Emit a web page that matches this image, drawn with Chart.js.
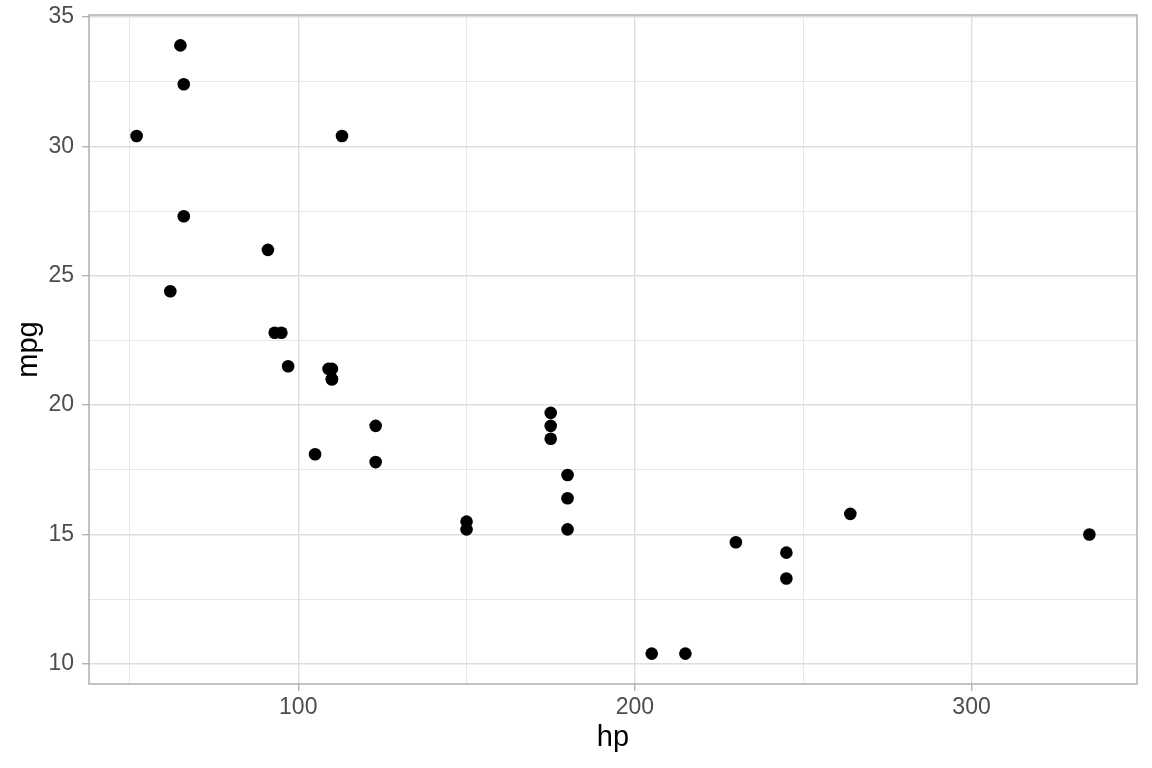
<!DOCTYPE html>
<html>
<head>
<meta charset="utf-8">
<script src="https://cdn.jsdelivr.net/npm/chart.js@4/dist/chart.umd.min.js"></script>
<style>
  html, body { margin: 0; padding: 0; background: #fff; }
  #wrap { width: 1152px; height: 768px; }
</style>
</head>
<body>
<div id="wrap"><canvas id="chart" width="1152" height="768"></canvas></div>
<script>
// mtcars: horsepower vs miles per gallon
const hp  = [110, 110, 93, 110, 175, 105, 245, 62, 95, 123, 123, 180, 180, 180, 205, 215,
             230, 66, 52, 65, 97, 150, 150, 245, 175, 66, 91, 113, 264, 175, 335, 109];
const mpg = [21.0, 21.0, 22.8, 21.4, 18.7, 18.1, 14.3, 24.4, 22.8, 19.2, 17.8, 16.4, 17.3, 15.2, 10.4, 10.4,
             14.7, 32.4, 30.4, 33.9, 21.5, 15.5, 15.2, 13.3, 19.2, 27.3, 26.0, 30.4, 15.8, 19.7, 15.0, 21.4];

const xMajor = [100, 200, 300];
const xMinor = [50, 150, 250];
const yMajor = [10, 15, 20, 25, 30, 35];
const yMinor = [12.5, 17.5, 22.5, 27.5, 32.5];

// ggplot-style 5% expansion of the data range
function expand(vals) {
  const lo = Math.min(...vals), hi = Math.max(...vals);
  const pad = (hi - lo) * 0.05;
  return [lo - pad, hi + pad];
}
const [xMin, xMax] = expand(hp);
const [yMin, yMax] = expand(mpg);

const points = hp.map((h, i) => ({ x: h, y: mpg[i] }));

const isMajor = (list) => (ctx) => ctx.tick && list.includes(ctx.tick.value);

// panel border drawn over everything, like theme_light
const panelBorder = {
  id: 'panelBorder',
  afterDraw(chart) {
    const { ctx, chartArea: a } = chart;
    ctx.save();
    ctx.strokeStyle = '#b3b3b3';
    ctx.lineWidth = 1.6;
    ctx.strokeRect(a.left, a.top, a.right - a.left, a.bottom - a.top);
    ctx.restore();
  }
};

new Chart(document.getElementById('chart'), {
  type: 'scatter',
  data: {
    datasets: [{
      data: points,
      backgroundColor: '#000000',
      borderWidth: 0,
      pointRadius: 6.3,
      pointHoverRadius: 6.3
    }]
  },
  options: {
    responsive: false,
    animation: false,
    devicePixelRatio: 1,
    events: [],
    layout: { padding: { top: 15, right: 15, left: 0, bottom: 0 } },
    plugins: { legend: { display: false }, tooltip: { enabled: false } },
    scales: {
      x: {
        type: 'linear',
        min: xMin,
        max: xMax,
        afterBuildTicks: (s) => { s.ticks = [...xMinor, ...xMajor].sort((a, b) => a - b).map(v => ({ value: v })); },
        afterFit: (s) => { s.height = 84; s.paddingLeft = 0; s.paddingRight = 0; },
        border: { display: false },
        grid: {
          color: '#dedede',
          lineWidth: (c) => isMajor(xMajor)(c) ? 1.4 : 0.7,
          tickLength: 7,
          tickColor: (c) => isMajor(xMajor)(c) ? '#b3b3b3' : 'rgba(0,0,0,0)',
          tickWidth: 1.4
        },
        ticks: {
          autoSkip: false,
          maxRotation: 0,
          padding: 3,
          color: '#4d4d4d',
          font: { family: 'Liberation Sans, Arial, sans-serif', size: 23 },
          callback: (v) => xMajor.includes(v) ? String(v) : ''
        },
        title: {
          display: true,
          text: 'hp',
          color: '#000000',
          font: { family: 'Liberation Sans, Arial, sans-serif', size: 29 },
          padding: { top: 0, bottom: 13 }
        }
      },
      y: {
        type: 'linear',
        min: yMin,
        max: yMax,
        afterBuildTicks: (s) => { s.ticks = [...yMinor, ...yMajor].sort((a, b) => a - b).map(v => ({ value: v })); },
        afterFit: (s) => { s.width = 89; s.paddingTop = 0; s.paddingBottom = 0; },
        border: { display: false },
        grid: {
          color: '#dedede',
          lineWidth: (c) => isMajor(yMajor)(c) ? 1.4 : 0.7,
          tickLength: 7,
          tickColor: (c) => isMajor(yMajor)(c) ? '#b3b3b3' : 'rgba(0,0,0,0)',
          tickWidth: 1.4
        },
        ticks: {
          autoSkip: false,
          padding: 8,
          color: '#4d4d4d',
          font: { family: 'Liberation Sans, Arial, sans-serif', size: 23 },
          callback: (v) => yMajor.includes(v) ? String(v) : ''
        },
        title: {
          display: true,
          text: 'mpg',
          color: '#000000',
          font: { family: 'Liberation Sans, Arial, sans-serif', size: 29 },
          padding: { top: 12, bottom: 0 }
        }
      }
    }
  },
  plugins: [panelBorder]
});
</script>
</body>
</html>
